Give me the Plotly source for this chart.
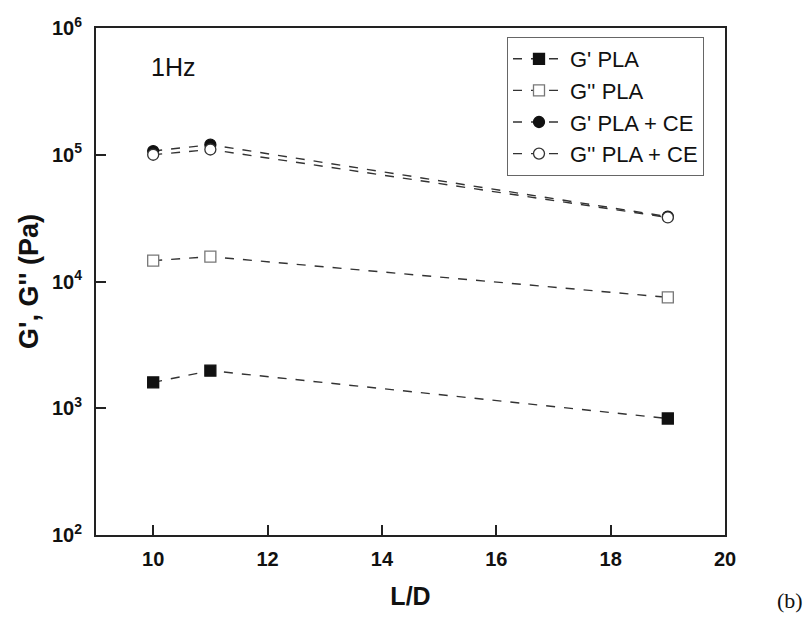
import plotly.graph_objects as go

ld = [10, 11, 19]
g1_pla = [1600, 1980, 830]
g2_pla = [14600, 15700, 7500]
g1_place = [107000, 120000, 32500]
g2_place = [100000, 110000, 32000]

names = ["G' PLA", "G'' PLA", "G' PLA + CE", "G'' PLA + CE"]
series = [g1_pla, g2_pla, g1_place, g2_place]
symbols = ["square", "square", "circle", "circle"]
fills = ["#111111", "white", "#111111", "white"]
edges = ["#111111", "#777777", "#111111", "#333333"]

fig = go.Figure()
for n, s, sym, fc, ec in zip(names, series, symbols, fills, edges):
    fig.add_trace(go.Scatter(
        x=ld, y=s, name=n, mode="lines+markers",
        line=dict(color="#333333", width=1.4, dash="dash"),
        marker=dict(symbol=sym, size=11, color=fc,
                    line=dict(color=ec, width=1.3)),
    ))

tickvals = [100, 1000, 10000, 100000, 1000000]
ticktext = ["10<sup>2</sup>", "10<sup>3</sup>", "10<sup>4</sup>", "10<sup>5</sup>", "10<sup>6</sup>"]

W, H = 803, 622
L, R, T, B = 88, 86, 20, 95
pw, ph = W - L - R, H - T - B

fig.update_layout(
    width=W, height=H,
    paper_bgcolor="white", plot_bgcolor="white",
    margin=dict(l=L, r=R, t=T, b=B, autoexpand=False),
    font=dict(family="Liberation Sans, Arial, sans-serif", color="#111111"),
    showlegend=True,
    legend=dict(x=(507 - 96) / pw, y=(535 - 37) / ph, xanchor="left", yanchor="top",
                bordercolor="#666666", borderwidth=1, bgcolor="white",
                itemwidth=52,
                font=dict(size=22, color="#111111"), tracegroupgap=0),
    xaxis=dict(range=[9, 20], tickvals=[10, 12, 14, 16, 18, 20],
               ticks="inside", ticklen=10, tickwidth=1.5, tickcolor="#222222",
               showline=True, linecolor="#222222", linewidth=2, mirror=True,
               showgrid=False, zeroline=False, automargin=False,
               ticklabelstandoff=5,
               tickfont=dict(size=20, family="Liberation Sans, Arial", weight="bold"),
               title=dict(text="<b>L/D</b>", font=dict(size=25), standoff=18)),
    yaxis=dict(type="log", range=[2, 6], tickvals=tickvals, ticktext=ticktext,
               ticks="inside", ticklen=10, tickwidth=1.5, tickcolor="#222222",
               showline=True, linecolor="#222222", linewidth=2, mirror=True,
               showgrid=False, zeroline=False, automargin=False,
               ticklabelstandoff=8,
               tickfont=dict(size=20, family="Liberation Sans, Arial", weight="bold"),
               title=dict(text="<b>G', G'' (Pa)</b>", font=dict(size=27), standoff=6)),
    annotations=[
        dict(text="1Hz", x=(173 - 96) / pw, y=(535 - 67) / ph, xref="paper", yref="paper",
             xanchor="center", yanchor="middle", showarrow=False,
             font=dict(size=25, color="#111111")),
        dict(text="(b)", x=(790 - 96) / pw, y=(535 - 600) / ph, xref="paper", yref="paper",
             xanchor="center", yanchor="middle", showarrow=False,
             font=dict(size=22, family="Liberation Serif", color="#111111")),
    ],
)

fig.write_html("out.html")
